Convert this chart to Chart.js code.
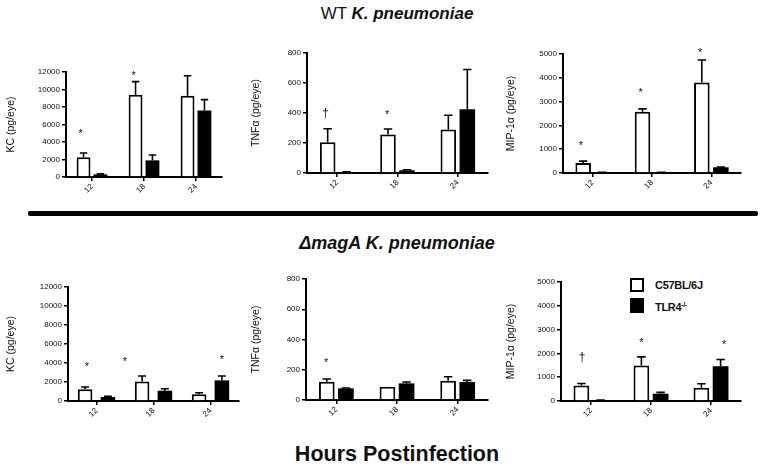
<!DOCTYPE html>
<html><head><meta charset="utf-8">
<script src="https://cdn.jsdelivr.net/npm/chart.js@4"></script>
<style>
body{margin:0;background:#fff;width:762px;height:470px;overflow:hidden;position:relative;font-family:"Liberation Sans",Arial,Helvetica,sans-serif;color:#111;}
.a{position:absolute;white-space:nowrap;}
.ttl{left:97px;width:600px;text-align:center;}
.sq{position:absolute;box-sizing:border-box;width:14px;height:14px;border:2px solid #000;}
.lg{position:absolute;font-weight:bold;font-size:11px;line-height:12px;letter-spacing:-0.3px;}
</style></head><body>
<div class="a ttl" style="top:5px;font-size:17px;line-height:17px;">WT <b><i>K. pneumoniae</i></b></div>
<div class="a" style="left:28px;top:211px;width:730px;height:5px;background:#000;border-radius:2px;"></div>
<div class="a ttl" style="top:234px;font-size:18px;line-height:18px;"><b><i>&Delta;magA K. pneumoniae</i></b></div>
<div class="a ttl" style="top:444px;font-size:21.5px;line-height:21.5px;font-weight:bold;">Hours Postinfection</div>
<div class="sq" style="left:630px;top:278px;background:#fff;"></div>
<div class="sq" style="left:630px;top:298px;height:15px;background:#000;"></div>
<div class="lg" id="lg1" style="left:655px;top:279px;"></div>
<div class="lg" id="lg2" style="left:655px;top:299px;"></div>
<script>
// ---------- data ----------
const hours = ['12', '18', '24'];
const seriesNames = ['C57BL/6J', 'TLR4'];
const kcTicks = [0, 2000, 4000, 6000, 8000, 10000, 12000];
const tnfTicks = [0, 200, 400, 600, 800];
const mipTicks = [0, 1000, 2000, 3000, 4000, 5000];

// WT K. pneumoniae
const wtKcB6 = [2250, 9400, 9300];
const wtKcB6Err = [490, 1500, 2280];
const wtKcTlr = [300, 1900, 7600];
const wtKcTlrErr = [60, 610, 1240];
const wtKcMarkText = ['*', '*'];
const wtKcMarkX = [-0.22, 0.8];
const wtKcMarkY = [5330, 11890];

const wtTnfB6 = [205, 256, 290];
const wtTnfB6Err = [90, 37, 95];
const wtTnfTlr = [6, 18, 425];
const wtTnfTlrErr = [2, 4, 265];
const wtTnfMarkText = ['\u2020', '*'];
const wtTnfMarkX = [-0.19, 0.83];
const wtTnfMarkY = [400, 407];

const wtMipB6 = [420, 2570, 3800];
const wtMipB6Err = [80, 125, 950];
const wtMipTlr = [20, 20, 240];
const wtMipTlrErr = [5, 5, 15];
const wtMipMarkText = ['*', '*', '*'];
const wtMipMarkX = [-0.2, 0.81, 1.81];
const wtMipMarkY = [1257, 3490, 5195];

// delta magA K. pneumoniae
const dKcB6 = [1225, 2065, 700];
const dKcB6Err = [245, 560, 175];
const dKcTlr = [420, 1085, 2170];
const dKcTlrErr = [70, 210, 455];
const dKcMarkText = ['*', '*', '*'];
const dKcMarkX = [-0.17, 0.5, 2.2];
const dKcMarkY = [3920, 4410, 4620];

const dTnfB6 = [121, 88, 128];
const dTnfB6Err = [18, 0, 26];
const dTnfTlr = [77, 110, 119];
const dTnfTlrErr = [2, 9, 11];
const dTnfMarkText = ['*'];
const dTnfMarkX = [-0.17];
const dTnfMarkY = [265];

const dMipB6 = [655, 1490, 557];
const dMipB6Err = [83, 362, 167];
const dMipTlr = [25, 306, 1462];
const dMipTlrErr = [10, 56, 279];
const dMipMarkText = ['\u2020', '*', '*'];
const dMipMarkX = [-0.15, 0.84, 2.22];
const dMipMarkY = [1838, 2577, 2507];

// ---------- legend text ----------
document.getElementById('lg1').textContent = seriesNames[0];
document.getElementById('lg2').innerHTML = seriesNames[1] + '<sup style="font-size:7px;vertical-align:4px;letter-spacing:-0.5px">-/-</sup>';

// ---------- drawing ----------
const F = '"Liberation Sans", Arial, Helvetica, sans-serif';
Chart.defaults.font.family = F;
Chart.defaults.color = '#111';

const barExtras = {
  id: 'barExtras',
  afterDatasetsDraw(chart, args, opts) {
    const ctx = chart.ctx, ys = chart.scales.y, xs = chart.scales.x;
    ctx.save();
    ctx.strokeStyle = '#000';
    ctx.lineWidth = 1.6;
    chart.data.datasets.forEach((ds, i) => {
      const meta = chart.getDatasetMeta(i);
      meta.data.forEach((bar, j) => {
        const e = ds.errors[j];
        if (!e) return;
        const yTop = ys.getPixelForValue(ds.data[j] + e);
        const half = bar.width * 0.27;
        ctx.beginPath();
        ctx.moveTo(bar.x, bar.y);
        ctx.lineTo(bar.x, yTop);
        ctx.moveTo(bar.x - half, yTop);
        ctx.lineTo(bar.x + half, yTop);
        ctx.stroke();
      });
    });
    ctx.fillStyle = '#111';
    ctx.textAlign = 'center';
    ctx.textBaseline = 'alphabetic';
    (opts.text || []).forEach((t, k) => {
      const star = t === '*';
      const size = star ? 11 : 12;
      ctx.font = size + 'px ' + F;
      const px = xs.getPixelForValue(opts.x[k]);
      const py = ys.getPixelForValue(opts.y[k]) + (star ? 0.57 : 0.3) * size;
      ctx.fillText(t, px, py);
    });
    ctx.restore();
  }
};

const panels = [
  {left: 0, axisX: 66, right: 222, top: 72, bottom: 177, cp: 0.65, bp: 0.82, ticks: kcTicks, title: 'KC (pg/eye)',
   w: wtKcB6, we: wtKcB6Err, k: wtKcTlr, ke: wtKcTlrErr, mt: wtKcMarkText, mx: wtKcMarkX, my: wtKcMarkY},
  {left: 245, axisX: 307, right: 488, top: 53, bottom: 173, cp: 0.63, bp: 0.82, ticks: tnfTicks, title: 'TNF\u03b1 (pg/eye)',
   w: wtTnfB6, we: wtTnfB6Err, k: wtTnfTlr, ke: wtTnfTlrErr, mt: wtTnfMarkText, mx: wtTnfMarkX, my: wtTnfMarkY},
  {left: 500, axisX: 563, right: 741, top: 54, bottom: 173, cp: 0.64, bp: 0.82, ticks: mipTicks, title: 'MIP-1\u03b1 (pg/eye)',
   w: wtMipB6, we: wtMipB6Err, k: wtMipTlr, ke: wtMipTlrErr, mt: wtMipMarkText, mx: wtMipMarkX, my: wtMipMarkY},
  {left: 0, axisX: 68, right: 239, top: 287, bottom: 401, cp: 0.8, bp: 0.64, ticks: kcTicks, title: 'KC (pg/eye)',
   w: dKcB6, we: dKcB6Err, k: dKcTlr, ke: dKcTlrErr, mt: dKcMarkText, mx: dKcMarkX, my: dKcMarkY},
  {left: 245, axisX: 306, right: 488, top: 279, bottom: 400, cp: 0.63, bp: 0.82, ticks: tnfTicks, title: 'TNF\u03b1 (pg/eye)',
   w: dTnfB6, we: dTnfB6Err, k: dTnfTlr, ke: dTnfTlrErr, mt: dTnfMarkText, mx: dTnfMarkX, my: dTnfMarkY},
  {left: 500, axisX: 561, right: 741, top: 282, bottom: 401, cp: 0.64, bp: 0.82, ticks: mipTicks, title: 'MIP-1\u03b1 (pg/eye)',
   w: dMipB6, we: dMipB6Err, k: dMipTlr, ke: dMipTlrErr, mt: dMipMarkText, mx: dMipMarkX, my: dMipMarkY}
];

panels.forEach(p => {
  const PT = 14, PR = 8, PB = 4, XH = 26;
  const L = p.left, T = p.top - PT, W = p.right - L + PR, H = p.bottom - T + XH + PB;
  const c = document.createElement('canvas');
  c.width = W; c.height = H;
  c.style.cssText = `position:absolute;left:${L}px;top:${T}px;width:${W}px;height:${H}px;`;
  document.body.appendChild(c);
  new Chart(c, {
    type: 'bar',
    data: {
      labels: hours,
      datasets: [
        {label: seriesNames[0], data: p.w, errors: p.we, backgroundColor: '#fff', borderColor: '#000', borderWidth: 2,
         borderSkipped: 'start', categoryPercentage: p.cp, barPercentage: p.bp},
        {label: seriesNames[1], data: p.k, errors: p.ke, backgroundColor: '#000', borderColor: '#000', borderWidth: 0,
         categoryPercentage: p.cp, barPercentage: p.bp}
      ]
    },
    options: {
      responsive: false,
      animation: false,
      devicePixelRatio: 1,
      layout: {padding: {top: PT, right: PR, bottom: PB, left: 0}},
      plugins: {legend: {display: false}, tooltip: {enabled: false},
        barExtras: {text: p.mt, x: p.mx, y: p.my}},
      scales: {
        x: {
          afterFit: s => { s.height = XH; },
          ticks: {font: {size: 8}, color: '#111', minRotation: 45, maxRotation: 45, autoSkip: false, padding: 1},
          grid: {display: true, drawOnChartArea: false, drawTicks: true, tickLength: 4, color: '#000', lineWidth: 1.5, offset: false},
          border: {display: true, color: '#000', width: 2}
        },
        y: {
          min: 0, max: p.ticks[p.ticks.length - 1],
          afterBuildTicks: s => { s.ticks = p.ticks.map(v => ({value: v})); },
          afterFit: s => { s.width = p.axisX - L; },
          ticks: {font: {size: 8}, color: '#111', padding: 2, callback: v => String(v)},
          grid: {display: true, drawOnChartArea: false, drawTicks: true, tickLength: 4, color: '#000', lineWidth: 1.5},
          border: {display: true, color: '#000', width: 2},
          title: {display: true, text: p.title, font: {size: 10.5}, color: '#111', padding: {top: 5, bottom: 0}}
        }
      }
    },
    plugins: [barExtras]
  });
});
</script>
</body></html>
